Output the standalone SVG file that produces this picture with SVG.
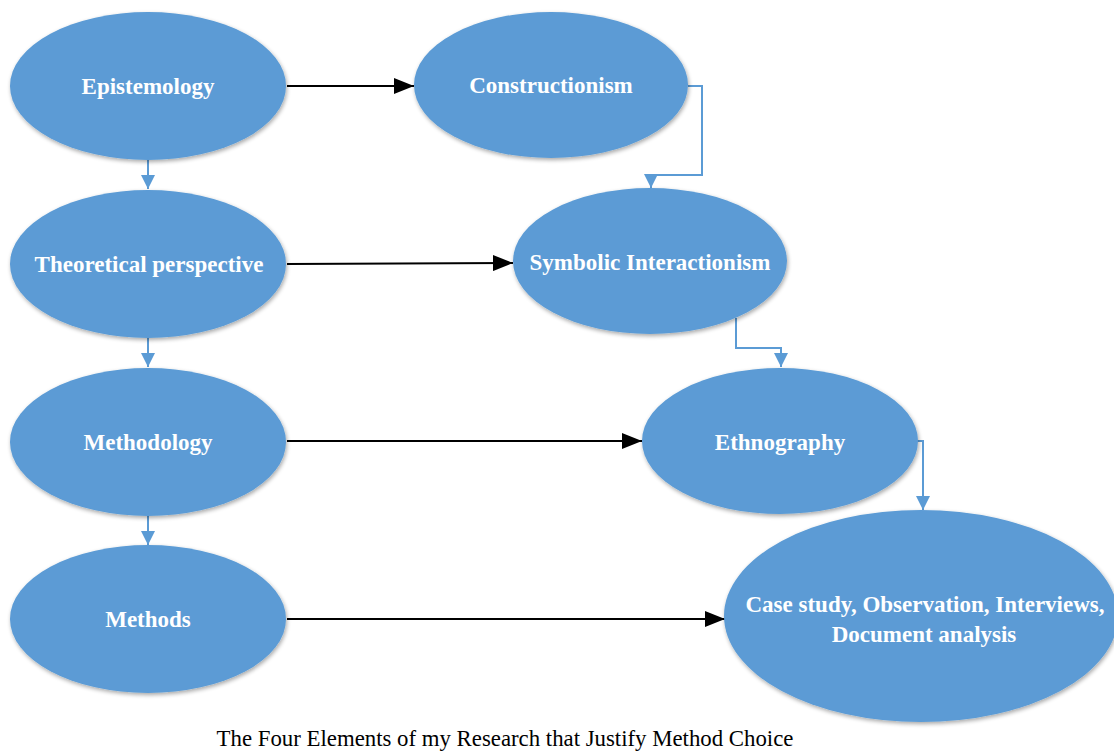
<svg xmlns="http://www.w3.org/2000/svg" width="1114" height="751" viewBox="0 0 1114 751">
<defs>
<filter id="sh" x="-10%" y="-10%" width="120%" height="125%">
<feGaussianBlur in="SourceAlpha" stdDeviation="2"/>
<feOffset dx="1" dy="2" result="b"/>
<feComponentTransfer><feFuncA type="linear" slope="0.35"/></feComponentTransfer>
<feMerge><feMergeNode/><feMergeNode in="SourceGraphic"/></feMerge>
</filter>
<marker id="ab" viewBox="0 0 20 16" refX="20" refY="8" markerWidth="20" markerHeight="16" markerUnits="userSpaceOnUse" orient="auto">
<path d="M0,0 L20,8 L0,16 Z" fill="#000"/>
</marker>
<marker id="au" viewBox="0 0 14 14" refX="14" refY="7" markerWidth="14" markerHeight="14" markerUnits="userSpaceOnUse" orient="auto">
<path d="M0,0 L14,7 L0,14 Z" fill="#5B9BD5"/>
</marker>
</defs>
<style>
.n{fill:#5B9BD5;filter:url(#sh)}
.t{font-family:"Liberation Serif","Times New Roman",serif;font-weight:bold;font-size:23px;fill:#fff;text-anchor:middle}
.k{stroke:#000;stroke-width:2;fill:none;marker-end:url(#ab)}
.b{stroke:#5B9BD5;stroke-width:2;fill:none;marker-end:url(#au)}
.cap{font-family:"Liberation Serif","Times New Roman",serif;font-size:22.8px;fill:#000;text-anchor:middle}
</style>
<rect width="1114" height="751" fill="#fff"/>
<g id="connectors">
<line class="k" x1="287" y1="86" x2="414" y2="86"/>
<line class="k" x1="287" y1="264" x2="513" y2="263"/>
<line class="k" x1="287" y1="441" x2="642" y2="441"/>
<line class="k" x1="287" y1="619" x2="725" y2="619"/>
<line class="b" x1="148" y1="160" x2="148" y2="189"/>
<line class="b" x1="148" y1="338" x2="148" y2="367"/>
<line class="b" x1="148" y1="516" x2="148" y2="545"/>
<polyline class="b" points="688,86 702,86 702,175 651,175 651,188"/>
<polyline class="b" points="736,318 736,348 781,348 781,367"/>
<polyline class="b" points="917,441 923,441 923,510"/>
</g>
<g id="epistemology"><ellipse class="n" cx="148" cy="86" rx="138" ry="74"/><text class="t" x="148" y="94">Epistemology</text></g>
<g id="constructionism"><ellipse class="n" cx="551" cy="85" rx="137" ry="73"/><text class="t" x="551" y="93">Constructionism</text></g>
<g id="theoretical"><ellipse class="n" cx="148" cy="264" rx="138" ry="74"/><text class="t" x="149" y="272">Theoretical perspective</text></g>
<g id="symbolic"><ellipse class="n" cx="650" cy="261" rx="137" ry="73"/><text class="t" x="650" y="270">Symbolic Interactionism</text></g>
<g id="methodology"><ellipse class="n" cx="148" cy="442" rx="138" ry="74"/><text class="t" x="148" y="450">Methodology</text></g>
<g id="ethnography"><ellipse class="n" cx="780" cy="441" rx="138" ry="73"/><text class="t" x="780" y="450">Ethnography</text></g>
<g id="methods"><ellipse class="n" cx="148" cy="619" rx="138" ry="74"/><text class="t" x="148" y="627">Methods</text></g>
<g id="case"><ellipse class="n" cx="921" cy="616" rx="197" ry="106"/><text class="t" x="925" y="612">Case study, Observation, Interviews,</text><text class="t" x="924" y="642">Document analysis</text></g>
<text class="cap" x="505" y="746">The Four Elements of my Research that Justify Method Choice</text>
</svg>
